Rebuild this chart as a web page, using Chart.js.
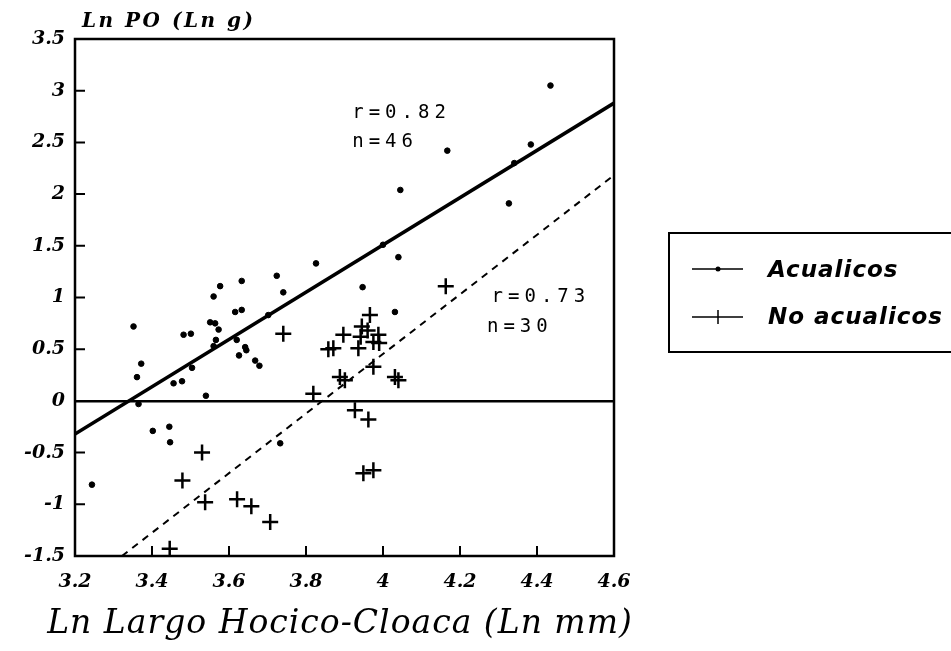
<!DOCTYPE html>
<html>
<head>
<meta charset="utf-8">
<script src="https://cdn.jsdelivr.net/npm/chart.js@4.4.1/dist/chart.umd.min.js"></script>
<style>
  html, body { margin: 0; padding: 0; background: #fff; }
</style>
</head>
<body>
<canvas id="scatter-chart" width="951" height="651"></canvas>
<script>
// acuaticos (dots)
var acuaticosX = [
  3.826, 3.633, 3.724, 3.577, 4.435, 4.384, 4.167, 4.045, 4.327, 4.04, 4.341,
  4.0, 3.947, 3.56, 3.741, 3.352, 3.482, 3.501, 3.616, 3.633, 3.702, 3.551,
  3.564, 3.573, 3.566, 3.56, 3.62, 3.642, 3.626, 3.668, 3.679, 3.372, 3.361,
  3.456, 3.478, 3.504, 3.54, 3.365, 3.402, 3.445, 3.447, 3.733, 3.244, 4.031,
  3.645,
];
var acuaticosY = [
  1.33, 1.16, 1.21, 1.11, 3.05, 2.48, 2.42, 2.04, 1.91, 1.39, 2.3,
  1.51, 1.1, 1.01, 1.05, 0.72, 0.64, 0.65, 0.86, 0.88, 0.83, 0.76,
  0.75, 0.69, 0.59, 0.53, 0.59, 0.52, 0.44, 0.39, 0.34, 0.36, 0.23,
  0.17, 0.19, 0.32, 0.05, -0.03, -0.29, -0.25, -0.4, -0.41, -0.81, 0.86,
  0.49,
];

// no acuaticos (crosses)
var noAcuaticosX = [
  3.741, 3.897, 3.858, 3.871, 3.888, 3.901, 3.819, 3.53, 3.479, 3.538, 3.621,
  3.658, 3.707, 3.446, 4.163, 3.966, 3.945, 3.942, 3.988, 3.975, 3.936, 3.975,
  4.031, 4.04, 3.927, 3.962, 3.949, 3.975, 3.96, 3.99,
];
var noAcuaticosY = [
  0.65, 0.64, 0.5, 0.51, 0.23, 0.2, 0.07, -0.5, -0.77, -0.98, -0.95,
  -1.02, -1.17, -1.43, 1.11, 0.83, 0.72, 0.62, 0.64, 0.57, 0.51, 0.33,
  0.23, 0.2, -0.09, -0.18, -0.7, -0.67, 0.68, 0.56,
];

// regression lines
var fitAcuaticosX = [3.2, 4.6];
var fitAcuaticosY = [-0.32, 2.88];
var fitNoAcuaticosX = [3.322, 4.6];
var fitNoAcuaticosY = [-1.5, 2.183];

var xTicks = [3.2, 3.4, 3.6, 3.8, 4.0, 4.2, 4.4, 4.6];
var xTickLabels = ["3.2", "3.4", "3.6", "3.8", "4", "4.2", "4.4", "4.6"];
var yTicks = [-1.5, -1, -0.5, 0, 0.5, 1, 1.5, 2, 2.5, 3, 3.5];
var yTickLabels = ["-1.5", "-1", "-0.5", "0", "0.5", "1", "1.5", "2", "2.5", "3", "3.5"];

var xTitle = "Ln Largo Hocico-Cloaca (Ln mm)";
var yTitle = "Ln PO (Ln g)";
var seriesNames = ["Acualicos", "No acualicos"];
var notes = [
  { text: "r=0.82", x: 3.92, y: 2.78 },
  { text: "n=46", x: 3.92, y: 2.5 },
  { text: "r=0.73", x: 4.282, y: 1.0 },
  { text: "n=30", x: 4.27, y: 0.716 },
];

function pairs(xs, ys) {
  return xs.map(function (x, i) {
    return { x: x, y: ys[i] };
  });
}

var tickFont = { family: "'DejaVu Serif'", size: 19, style: "italic", weight: "bold" };

var extras = {
  id: "extras",
  afterDraw: function (chart) {
    var ctx = chart.ctx;
    var a = chart.chartArea;
    var sx = chart.scales.x;
    var sy = chart.scales.y;
    ctx.save();
    ctx.strokeStyle = "#000";
    ctx.fillStyle = "#000";

    // frame
    ctx.lineWidth = 2.5;
    ctx.strokeRect(a.left, a.top, a.right - a.left, a.bottom - a.top);

    // inner tick marks
    ctx.lineWidth = 2;
    ctx.beginPath();
    xTicks.slice(1, -1).forEach(function (v) {
      var px = sx.getPixelForValue(v);
      ctx.moveTo(px, a.bottom);
      ctx.lineTo(px, a.bottom - 10);
    });
    yTicks.slice(1, -1).forEach(function (v) {
      var py = sy.getPixelForValue(v);
      ctx.moveTo(a.left, py);
      ctx.lineTo(a.left + 10, py);
    });
    ctx.stroke();

    // y title on top
    ctx.font = "bold italic 20px 'DejaVu Serif'";
    ctx.textBaseline = "middle";
    ctx.textAlign = "left";
    ctx.letterSpacing = "2.5px";
    ctx.fillText(yTitle, a.left + 7, 22);

    // x title, wider than the plot so drawn here
    ctx.font = "italic 33px 'DejaVu Serif'";
    ctx.letterSpacing = "1px";
    ctx.textAlign = "center";
    ctx.fillText(xTitle, 340, 624);
    ctx.textAlign = "left";

    // r / n notes
    ctx.font = "19px 'DejaVu Sans Mono'";
    ctx.letterSpacing = "5px";
    notes.forEach(function (n) {
      ctx.fillText(n.text, sx.getPixelForValue(n.x), sy.getPixelForValue(n.y));
    });

    // legend box
    ctx.letterSpacing = "0px";
    ctx.lineWidth = 2;
    ctx.strokeRect(669, 233, 320, 119);
    ctx.lineWidth = 1.5;
    ctx.beginPath();
    ctx.moveTo(692, 269);
    ctx.lineTo(743, 269);
    ctx.moveTo(692, 317);
    ctx.lineTo(743, 317);
    ctx.moveTo(718, 310);
    ctx.lineTo(718, 324);
    ctx.stroke();
    ctx.beginPath();
    ctx.arc(718, 269, 2.5, 0, Math.PI * 2);
    ctx.fill();
    ctx.font = "bold italic 23px 'DejaVu Sans'";
    ctx.letterSpacing = "1px";
    ctx.fillText(seriesNames[0], 768, 271);
    ctx.fillText(seriesNames[1], 768, 318);
    ctx.restore();
  },
};

var scatterChart = new Chart(document.getElementById("scatter-chart"), {
  type: "scatter",
  data: {
    datasets: [
      {
        label: seriesNames[0],
        data: pairs(acuaticosX, acuaticosY),
        backgroundColor: "#000",
        borderColor: "#000",
        pointRadius: 2.8,
      },
      {
        label: seriesNames[1],
        data: pairs(noAcuaticosX, noAcuaticosY),
        pointStyle: "cross",
        pointRadius: 8,
        borderWidth: 2.5,
        borderColor: "#000",
      },
      {
        data: pairs(fitAcuaticosX, fitAcuaticosY),
        showLine: true,
        borderColor: "#000",
        borderWidth: 3.5,
        pointRadius: 0,
      },
      {
        data: pairs(fitNoAcuaticosX, fitNoAcuaticosY),
        showLine: true,
        borderColor: "#000",
        borderWidth: 2,
        borderDash: [7, 6],
        pointRadius: 0,
      },
    ],
  },
  plugins: [extras],
  options: {
    responsive: false,
    animation: false,
    layout: {
      padding: { top: 39, right: 337, left: 0, bottom: 0 },
    },
    plugins: {
      legend: { display: false },
      tooltip: { enabled: false },
    },
    scales: {
      x: {
        type: "linear",
        min: 3.2,
        max: 4.6,
        afterFit: function (s) {
          s.height = 95;
        },
        afterBuildTicks: function (s) {
          s.ticks = xTicks.map(function (v) {
            return { value: v };
          });
        },
        grid: { drawOnChartArea: false, drawTicks: false },
        border: { display: false },
        ticks: {
          color: "#000",
          font: tickFont,
          padding: 15,
          maxRotation: 0,
          callback: function (v, i) {
            return xTickLabels[i];
          },
        },
      },
      y: {
        type: "linear",
        min: -1.5,
        max: 3.5,
        afterFit: function (s) {
          s.width = 75;
        },
        afterBuildTicks: function (s) {
          s.ticks = yTicks.map(function (v) {
            return { value: v };
          });
        },
        grid: {
          drawTicks: false,
          lineWidth: 2.5,
          color: function (c) {
            return c.tick && c.tick.value === 0 ? "#000" : "transparent";
          },
        },
        border: { display: false },
        ticks: {
          color: "#000",
          font: tickFont,
          padding: 10,
          callback: function (v, i) {
            return yTickLabels[i];
          },
        },
      },
    },
  },
});
</script>
</body>
</html>
